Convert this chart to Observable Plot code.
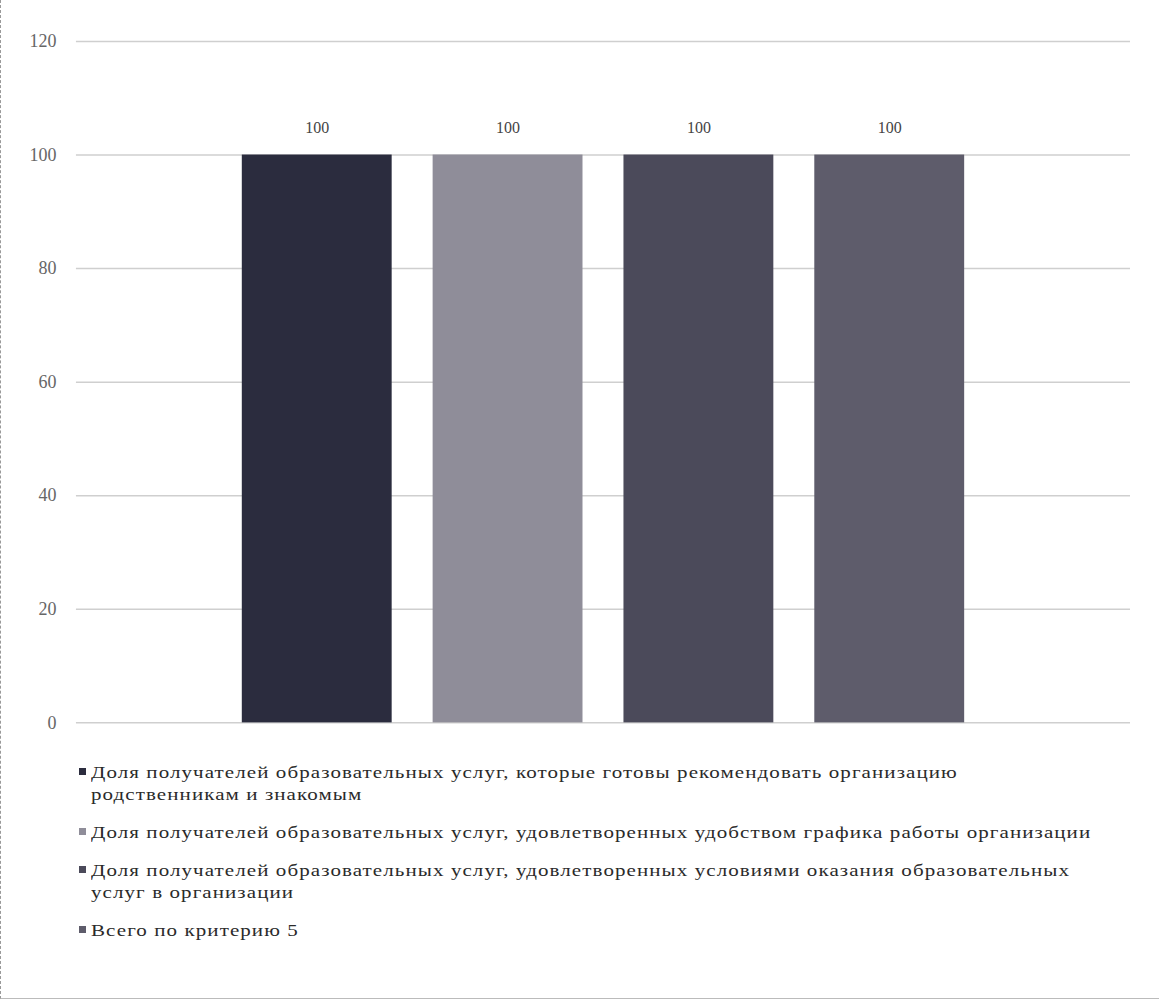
<!DOCTYPE html>
<html>
<head>
<meta charset="utf-8">
<script src="https://cdn.jsdelivr.net/npm/d3@7"></script>
<script src="https://cdn.jsdelivr.net/npm/@observablehq/plot@0.6"></script>
<style>
  html, body { margin: 0; padding: 0; background: #fff; }
  #frame { position: relative; width: 1159px; height: 999px; box-sizing: border-box;
           border-left: 1px dashed #999; border-bottom: 1px solid #bbb; overflow: hidden; }
  #legend { margin: 12px 0 0 78px; font-family: "Liberation Serif", serif; font-size: 17.5px;
            color: #2a2a2a; line-height: 22px; width: 1060px; }
  .item { display: flex; align-items: flex-start; margin-bottom: 16px; }
  .sw { width: 7px; height: 7px; margin-top: 7px; margin-right: 5px; flex: none; }
  .lbl { white-space: pre-line; display: inline-block; letter-spacing: 0.9px;
         transform: scaleX(1.2); transform-origin: 0 0; }
</style>
</head>
<body>
<div id="frame">
  <div id="chart"></div>
  <div id="legend"></div>
</div>
<script>
const series = [
  "Доля получателей образовательных услуг, которые готовы рекомендовать организацию\nродственникам и знакомым",
  "Доля получателей образовательных услуг, удовлетворенных удобством графика работы организации",
  "Доля получателей образовательных услуг, удовлетворенных условиями оказания образовательных\nуслуг в организации",
  "Всего по критерию 5"
];
const values = [100, 100, 100, 100];
const colors = ["#2b2c3e", "#8f8d99", "#4b4a5a", "#5e5c6b"];
const yTicks = [0, 20, 40, 60, 80, 100, 120];

const data = series.map((s, i) => ({series: s, value: values[i]}));

const chart = Plot.plot({
  width: 1159,
  height: 750,
  marginTop: 41,
  marginBottom: 27,
  marginLeft: 75,
  marginRight: 29,
  style: {fontFamily: "Liberation Serif, serif", fontSize: "18px", color: "#555", background: "transparent"},
  x: {domain: series, axis: null, paddingInner: 0.215, paddingOuter: 0.865},
  y: {domain: [0, 120]},
  color: {domain: series, range: colors},
  marks: [
    Plot.gridY(yTicks, {stroke: "#cfcfcf", strokeOpacity: 1, strokeWidth: 1.5}),
    Plot.axisY({ticks: yTicks, tickSize: 0, tickPadding: 20, label: null, fontSize: 18, fill: "#666"}),
    Plot.barY(data, {x: "series", y: "value", fill: "series"}),
    Plot.text(data, {x: "series", y: "value", text: d => String(d.value), dy: -27, fontSize: 16, fill: "#444"})
  ]
});
document.getElementById("chart").appendChild(chart);

const legend = document.getElementById("legend");
series.forEach((s, i) => {
  const item = document.createElement("div");
  item.className = "item";
  const sw = document.createElement("span");
  sw.className = "sw";
  sw.style.background = colors[i];
  const lbl = document.createElement("span");
  lbl.className = "lbl";
  lbl.textContent = s;
  item.appendChild(sw);
  item.appendChild(lbl);
  legend.appendChild(item);
});
</script>
</body>
</html>
